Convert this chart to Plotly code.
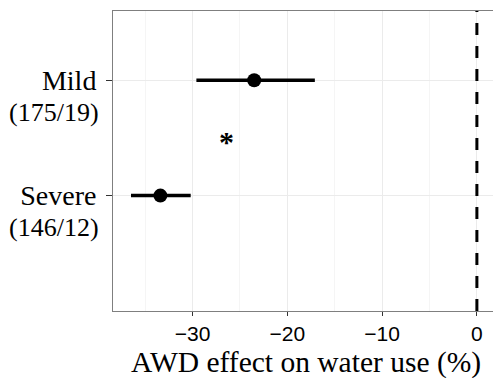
import plotly.graph_objects as go

categories = ["Severe", "Mild"]
counts = ["(146/12)", "(175/19)"]
cat_pos = [1, 2]
effect = [-33.4, -23.5]
ci_low = [-36.5, -29.6]
ci_high = [-30.2, -17.1]
star_x = -26.4
star_y = 1.48
x_title = "AWD effect on water use (%)"

fig = go.Figure()

# CI lines
for y, lo, hi in zip(cat_pos, ci_low, ci_high):
    fig.add_trace(go.Scatter(x=[lo, hi], y=[y, y], mode="lines",
                             line=dict(color="black", width=3.5),
                             showlegend=False, hoverinfo="skip"))

fig.add_trace(go.Scatter(x=effect, y=cat_pos, mode="markers",
                         marker=dict(color="black", size=14),
                         showlegend=False))

# zero line
fig.add_shape(type="line", x0=0, x1=0, y0=0, y1=1, yref="paper", xref="x",
              line=dict(color="black", width=3, dash="12px,11px"))

fig.add_annotation(x=star_x, y=star_y, text="<b>*</b>", showarrow=False,
                   font=dict(family="Liberation Serif", size=30, color="black"),
                   yanchor="middle", yshift=-1)

for y, c in zip(cat_pos, counts):
    fig.add_annotation(x=0, xref="paper", y=y - 0.28, yref="y", text=c,
                       showarrow=False, xanchor="right", xshift=-12,
                       font=dict(family="Liberation Serif", size=26, color="black"))

# x-axis title
fig.add_annotation(x=0.5, xref="paper", y=0, yref="paper", text=x_title,
                   showarrow=False, xanchor="center", yanchor="middle", yshift=-51,
                   xshift=3,
                   font=dict(family="Liberation Serif", size=29.5, color="black"))

fig.update_layout(
    width=493, height=378,
    margin=dict(l=113, r=0, t=11, b=67),
    plot_bgcolor="white", paper_bgcolor="white",
    xaxis=dict(range=[-38.4, 1.7], tickvals=[-30, -20, -10, 0],
               ticktext=["\u221230", "\u221220", "\u221210", "0"],
               showgrid=True, gridcolor="#ebebeb", gridwidth=1,
               minor=dict(tickvals=[-35, -25, -15, -5], showgrid=True,
                          gridcolor="#f5f5f5", gridwidth=1),
               zeroline=False, showline=True, linecolor="#7f7f7f", linewidth=1,
               mirror=True, ticks="outside", ticklen=4, tickcolor="#333333",
               tickfont=dict(family="Liberation Sans", size=21, color="black")),
    yaxis=dict(range=[0, 2.6], tickvals=cat_pos, ticktext=categories,
               showgrid=True, gridcolor="#ebebeb", gridwidth=1,
               zeroline=False, showline=True, linecolor="#7f7f7f", linewidth=1,
               ticks="outside", ticklen=6, tickcolor="#333333",
               ticklabelstandoff=4,
               tickfont=dict(family="Liberation Serif", size=28, color="black")),
)

fig.write_html("out.html", config={"displayModeBar": False},
               post_script="document.body.style.margin='0';")
